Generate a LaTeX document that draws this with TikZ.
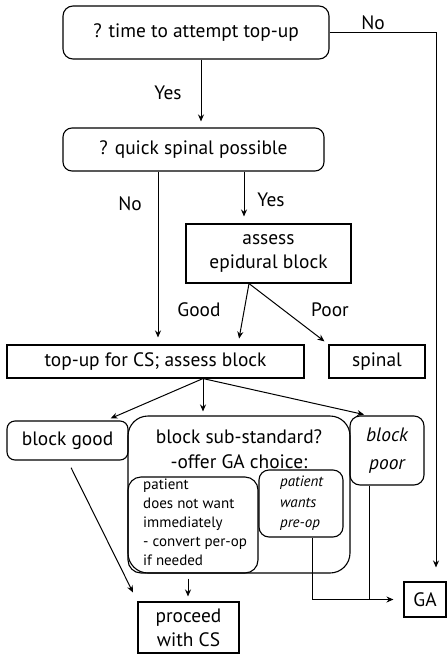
\documentclass[tikz,border=0pt]{standalone}
\usepackage{fontspec}
\setmainfont{PT Sans}
\usetikzlibrary{arrows.meta}
\begin{document}
\begin{tikzpicture}[x=1pt,y=-1pt,
  font=\fontsize{19.4}{23}\selectfont,
  box/.style={draw,line width=1.1pt,inner sep=0pt,align=center},
  rbox/.style={box,rounded corners=#1},
  rbox/.default=10pt,
  small/.style={font=\fontsize{15}{19}\selectfont},
  link/.style={line width=1pt},
  arr/.style={link,-{Stealth[length=7pt,width=6pt]}},
  lbl/.style={inner sep=0pt,align=center}]
\useasboundingbox (0,0) rectangle (447,662);

% decision boxes
\node[rbox, minimum width=266pt, minimum height=53pt] (q1) at (196,32.5) {? time to attempt top-up};
\node[rbox=9pt, minimum width=261pt, minimum height=43pt] (q2) at (193.5,149.5) {? quick spinal possible};
\node[box, minimum width=165pt, minimum height=59pt] (epi) at (268.5,253.5) {assess\\[1pt]epidural block};
\node[box, minimum width=297pt, minimum height=33pt] (topup) at (155.5,361.5) {top-up for CS; assess block};
\node[box, minimum width=96pt, minimum height=33pt] (spinal) at (377,361.5) {spinal};

% outcome boxes after top-up
\node[rbox=8pt, minimum width=121pt, minimum height=39pt] (good) at (67.5,440.5) {block good};
\node[rbox=20pt, minimum width=222pt, minimum height=157pt] (sub) at (239,494.5) {};
\node[lbl] (subtxt) at (239,449.5) {block sub-standard?\\[2pt]-offer GA choice:};
\node[rbox=13pt, minimum width=130pt, minimum height=96pt] (inL) at (193,525) {};
\node[lbl, small, align=left, anchor=north west] (inLtxt) at (143,479) {patient\\does not want\\immediately\\- convert per-op\\if needed};
\node[rbox=10pt, minimum width=84pt, minimum height=67pt] (inR) at (301,503.5) {};
\node[lbl, small, align=left, anchor=north west, font=\fontsize{15}{20.5}\selectfont\itshape] (inRtxt) at (280,476) {patient\\wants\\pre-op};
\node[rbox=10pt, minimum width=74pt, minimum height=69pt, font=\fontsize{19.4}{28}\selectfont\itshape] (poor) at (387,450.5) {block\\poor};

% final boxes
\node[box, minimum width=101pt, minimum height=51pt] (proceed) at (188.5,627.5) {proceed\\[1pt]with CS};
\node[box, minimum width=42pt, minimum height=35pt] (GA) at (425,599.5) {GA};

% connectors
\draw[arr, shorten >=6pt] ([xshift=5pt]q1.south) -- ([xshift=7.5pt]q2.north);
\draw[arr, shorten >=14pt] (q1.east) -| ([xshift=11pt]GA.north);
\draw[arr, shorten >=7pt] ([xshift=-35.5pt]q2.south) -- ([xshift=2.5pt]topup.north);
\draw[arr, shorten >=7pt] ([xshift=50.5pt]q2.south) -- ([xshift=-24.5pt]epi.north);
\draw[arr, shorten >=6pt] ([xshift=-19.5pt]epi.south) -- ([xshift=82.5pt]topup.north);
\draw[arr, shorten >=5pt] ([xshift=-19.5pt]epi.south) -- (spinal.north west);
\draw[arr, shorten >=5pt] ([xshift=47.5pt]topup.south) -- ([xshift=38.5pt]good.north);
\draw[arr, shorten >=4pt] ([xshift=47.5pt]topup.south) -- ([xshift=-36pt]sub.north);
\draw[arr, shorten >=4pt] ([xshift=47.5pt]topup.south) -- ([xshift=-19pt]poor.north);
\draw[arr, shorten <=8pt, shorten >=10pt] (good.south) -- (proceed.north west);
\draw[arr, shorten <=5pt, shorten >=5pt] ([xshift=-5pt]inL.south) -- ([xshift=-0.5pt]proceed.north);
\draw[arr, shorten >=10pt] ([xshift=11.5pt]inR.south) |- (GA.west);
\draw[link] ([xshift=-18pt]poor.south) -- ([xshift=-18pt]poor.south |- GA.west);

% branch labels
\node[lbl] (l1) at (373,23) {No};
\node[lbl] (l2) at (168,93) {Yes};
\node[lbl] (l3) at (130,204) {No};
\node[lbl] (l4) at (271,200) {Yes};
\node[lbl] (l5) at (199,310) {Good};
\node[lbl] (l6) at (330,310) {Poor};
\end{tikzpicture}
\end{document}
